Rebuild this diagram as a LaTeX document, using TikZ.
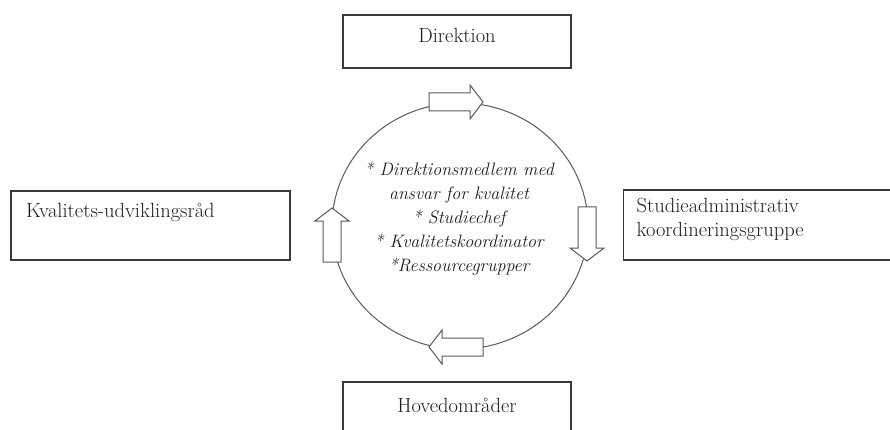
\documentclass[tikz,border=0pt]{standalone}
\usepackage{tikz}
\usetikzlibrary{positioning}
\definecolor{boxline}{HTML}{3A3A3A}
\definecolor{ringline}{HTML}{5A5A5A}
\definecolor{inktext}{HTML}{1C1C2C}
\tikzset{box node/.style={draw=boxline,line width=1.3pt,inner sep=0pt,text=inktext,font=\fontsize{20.5}{24}\selectfont},
  ring text/.style={text=inktext,align=center,font=\fontsize{18}{24}\selectfont\itshape},
  block arrow/.pic={\draw[draw=ringline,line width=1pt,fill=white] (0,-9) -- (41,-9) -- (41,-17) -- (54,0) -- (41,17) -- (41,9) -- (0,9) -- cycle;},}

\begin{document}
\begin{tikzpicture}[x=1pt,y=-1pt]
    \clip (0,0) rectangle (890,430);
    \node[box node,minimum width=228pt,minimum height=53pt,text height=14pt,text depth=11pt] (direktion) at (457,41.5) {Direktion};
    \node[box node,minimum width=279pt,minimum height=69pt,inner xsep=15pt,text width=249pt,align=left,text height=14pt,text depth=29pt] (kvalitet) at (150.5,225.5) {Kvalitets-udviklingsråd};
    \node[box node,anchor=west,minimum width=290pt,minimum height=70pt,inner xsep=13pt,text width=264pt,align=left,text height=14pt,text depth=38pt] (studie) at (623,225) {Studieadministrativ\\koordineringsgruppe};
    \node[box node,minimum width=228pt,minimum height=53pt,text height=14pt,text depth=7pt] (hoved) at (457,408.5) {Hovedområder};

    \coordinate (ring) at (460,226);
    \draw[ringline,line width=1pt] (ring) ellipse [x radius=128pt,y radius=123pt];
    \node[ring text] (medlemmer) at (459,219) {* Direktionsmedlem med\\ansvar for kvalitet\\* Studiechef\\* Kvalitetskoordinator\\*Ressourcegrupper};

    \pic at (429,102) {block arrow};
    \pic[rotate=-90] at (587,207) {block arrow};
    \pic[rotate=180] at (483,347) {block arrow};
    \pic[rotate=90] at (332,262) {block arrow};
\end{tikzpicture}
\end{document}
